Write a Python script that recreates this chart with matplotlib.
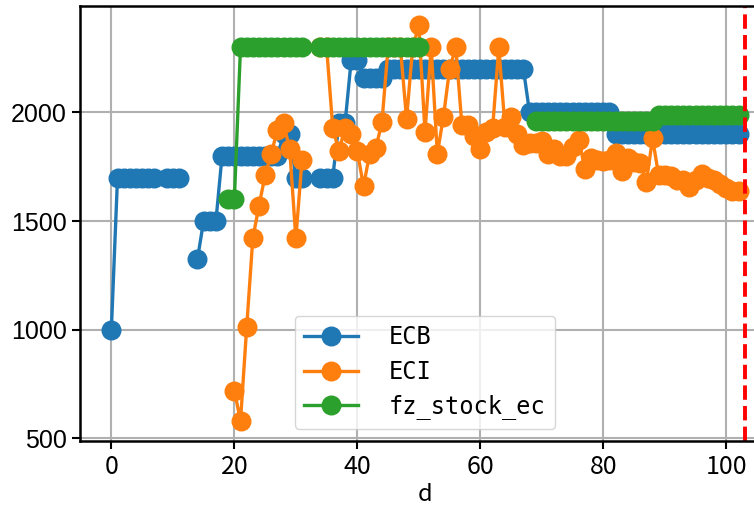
import numpy as np
import matplotlib
matplotlib.use('Agg')
from matplotlib import pyplot as plt

nan = np.nan
d = np.arange(0, 103)

# ECB by day (nan = no value)
ecb = [1000] + [1700]*7 + [nan] + [1700]*3 + [nan]*2 + [1325] + [1500]*3 \
    + [1800]*10 + [1900]*2 + [1700]*2 + [nan]*2 + [1700]*3 + [1950]*2 \
    + [2240]*2 + [2160]*4 + [2200]*23 + [2000]*14 + [1900]*21

# ECI by day
eci = [nan]*20 + [720, 580, 1010, 1420, 1570, 1710, 1810, 1920, 1950, 1830,
       1420, 1780, nan, nan, 2300, 2300, 1930, 1820, 1930, 1900,
       1820, 1660, 1810, 1835, 1955, 2300, 2300, 2300, 1970, 2300,
       2400, 1910, 2300, 1810, 1980, 2200, 2300, 1940, 1940, 1890,
       1830, 1910, 1930, 2300, 1935, 1980, 1900, 1850, 1860, 1860,
       1870, 1810, 1830, 1800, 1800, 1840, 1875, 1740, 1790, 1780,
       1775, 1780, 1815, 1730, 1790, 1770, 1765, 1680, 1880, 1710,
       1710, 1705, 1690, 1690, 1655, 1690, 1715, 1700, 1690, 1670,
       1650, 1640, 1640]

# fz_stock_ec by day
fz_stock_ec = [nan]*19 + [1600]*2 + [2300]*11 + [nan]*2 + [2300]*17 \
    + [nan]*18 + [1960]*20 + [1990]*14

cut_day = 103

fig = plt.figure(figsize=(7.54, 5.12), dpi=100)
ax = fig.add_axes([80/754, 71.3/512, 690/754, 435/512])

ax.plot(d, ecb, marker='o', markersize=13.4, linewidth=2.4, label='ECB')
ax.plot(d, eci, marker='o', markersize=13.4, linewidth=2.4, label='ECI')
ax.plot(d, fz_stock_ec, marker='o', markersize=13.4, linewidth=2.4, label='fz_stock_ec')
ax.axvline(cut_day, color='red', linestyle='--', linewidth=2.8)

ax.set_xlim(-5.1, 107.1)
ax.set_yticks([500, 1000, 1500, 2000])
ax.set_xticks([0, 20, 40, 60, 80, 100])
ax.grid(True, color='#b0b0b0', linewidth=1.5)

for s in ax.spines.values():
    s.set_linewidth(1.8)
ax.tick_params(direction='out', length=6, width=1.5)
for t in ax.get_yticklabels():
    t.set_fontfamily('Liberation Sans')
    t.set_fontsize(18)
for t in ax.get_xticklabels():
    t.set_fontfamily('Noto Sans CJK SC')
    t.set_fontsize(18)
ax.set_xlabel('d', fontsize=17, family=['Noto Sans CJK SC'], labelpad=2)

ax.legend(loc='lower center', prop={'family': 'DejaVu Sans Mono', 'size': 17},
          handlelength=2.3, handletextpad=1.3, borderpad=0.4, labelspacing=0.45)

fig.savefig('out.png', dpi=100)
